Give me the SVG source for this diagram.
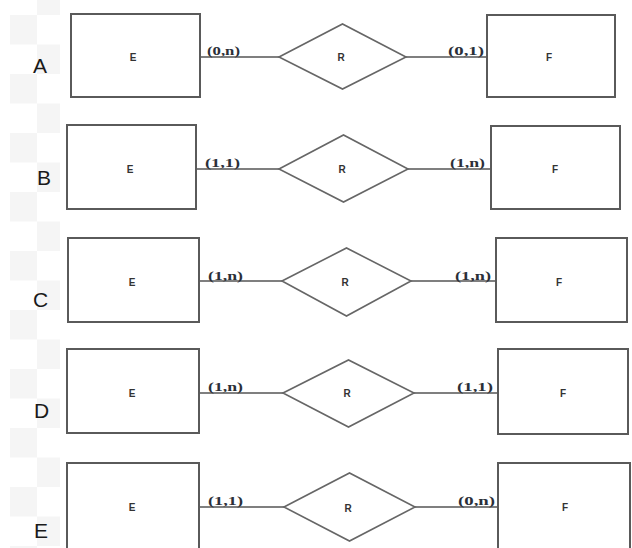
<svg xmlns="http://www.w3.org/2000/svg" width="632" height="548" viewBox="0 0 632 548">
<style>
.ent{fill:#fff;stroke:#5a5a5a;stroke-width:2}
.rel{fill:#fff;stroke:#666;stroke-width:1.6}
.ln{stroke:#555;stroke-width:1.6;fill:none}
.nm{font-family:"Liberation Sans",Arial,sans-serif;font-weight:bold;font-size:10px;fill:#333;text-anchor:middle}
.card{font-family:"Liberation Serif","Times New Roman",serif;font-weight:bold;font-size:13px;fill:#2b2f38}
.row{font-family:"Liberation Sans",Arial,sans-serif;font-size:21px;fill:#1a1a1a}
</style>
<defs>
<pattern id="chk" x="10" y="15" width="50" height="59" patternUnits="userSpaceOnUse">
<rect x="0" y="0" width="27" height="29.5" fill="#f5f5f5"/>
<rect x="27" y="29.5" width="23" height="29.5" fill="#f5f5f5"/>
</pattern>
</defs>
<rect width="632" height="548" fill="#fff"/>
<rect x="10" y="0" width="50" height="548" fill="url(#chk)"/>
<g id="labels">
<text class="row" x="33" y="73">A</text>
<text class="row" x="37" y="185">B</text>
<text class="row" x="33" y="307">C</text>
<text class="row" x="34" y="418">D</text>
<text class="row" x="34" y="538">E</text>
</g>
<g id="connectors">
<line class="ln" x1="200" y1="57" x2="279" y2="57"/>
<line class="ln" x1="406" y1="57" x2="487" y2="57"/>
<line class="ln" x1="196" y1="169" x2="279" y2="169"/>
<line class="ln" x1="408" y1="169" x2="491" y2="169"/>
<line class="ln" x1="199" y1="281" x2="282" y2="281"/>
<line class="ln" x1="411" y1="281" x2="496" y2="281"/>
<line class="ln" x1="199" y1="393" x2="283" y2="393"/>
<line class="ln" x1="414" y1="393" x2="498" y2="393"/>
<line class="ln" x1="199" y1="507" x2="284" y2="507"/>
<line class="ln" x1="415" y1="507" x2="498" y2="507"/>
<text class="card" x="207" y="55" textLength="33" lengthAdjust="spacingAndGlyphs">(0,n)</text>
<text class="card" x="448" y="55" textLength="36" lengthAdjust="spacingAndGlyphs">(0,1)</text>
<text class="card" x="205" y="167" textLength="35" lengthAdjust="spacingAndGlyphs">(1,1)</text>
<text class="card" x="450" y="167" textLength="35" lengthAdjust="spacingAndGlyphs">(1,n)</text>
<text class="card" x="208" y="280" textLength="35" lengthAdjust="spacingAndGlyphs">(1,n)</text>
<text class="card" x="455" y="280" textLength="36" lengthAdjust="spacingAndGlyphs">(1,n)</text>
<text class="card" x="208" y="391" textLength="35" lengthAdjust="spacingAndGlyphs">(1,n)</text>
<text class="card" x="457" y="391" textLength="36" lengthAdjust="spacingAndGlyphs">(1,1)</text>
<text class="card" x="208" y="505" textLength="35" lengthAdjust="spacingAndGlyphs">(1,1)</text>
<text class="card" x="458" y="505" textLength="37" lengthAdjust="spacingAndGlyphs">(0,n)</text>
</g>
<g id="A_E"><rect class="ent" x="71" y="14" width="129" height="83"/><text class="nm" x="133" y="61">E</text></g>
<g id="A_R"><polygon class="rel" points="279,57 342.5,24 406,57 342.5,89"/><text class="nm" x="341" y="61">R</text></g>
<g id="A_F"><rect class="ent" x="487" y="15" width="128" height="82"/><text class="nm" x="549" y="61">F</text></g>
<g id="B_E"><rect class="ent" x="67" y="125" width="129" height="84"/><text class="nm" x="130" y="173">E</text></g>
<g id="B_R"><polygon class="rel" points="279,169 343.5,135 408,169 343.5,202"/><text class="nm" x="342" y="173">R</text></g>
<g id="B_F"><rect class="ent" x="491" y="126" width="129" height="83"/><text class="nm" x="555" y="173">F</text></g>
<g id="C_E"><rect class="ent" x="68" y="238" width="131" height="84"/><text class="nm" x="132" y="286">E</text></g>
<g id="C_R"><polygon class="rel" points="282,281 346.5,248 411,281 346.5,316"/><text class="nm" x="345" y="286">R</text></g>
<g id="C_F"><rect class="ent" x="496" y="238" width="131" height="84"/><text class="nm" x="559" y="286">F</text></g>
<g id="D_E"><rect class="ent" x="67" y="349" width="132" height="84"/><text class="nm" x="132" y="397">E</text></g>
<g id="D_R"><polygon class="rel" points="283,393 348.5,360 414,393 348.5,427"/><text class="nm" x="347" y="397">R</text></g>
<g id="D_F"><rect class="ent" x="498" y="349" width="130" height="85"/><text class="nm" x="563" y="397">F</text></g>
<g id="E_E"><rect class="ent" x="67" y="463" width="132" height="90"/><text class="nm" x="132" y="511">E</text></g>
<g id="E_R"><polygon class="rel" points="284,507 349.5,473 415,507 349.5,541"/><text class="nm" x="348" y="512">R</text></g>
<g id="E_F"><rect class="ent" x="498" y="463" width="132" height="90"/><text class="nm" x="565" y="511">F</text></g>
</svg>
